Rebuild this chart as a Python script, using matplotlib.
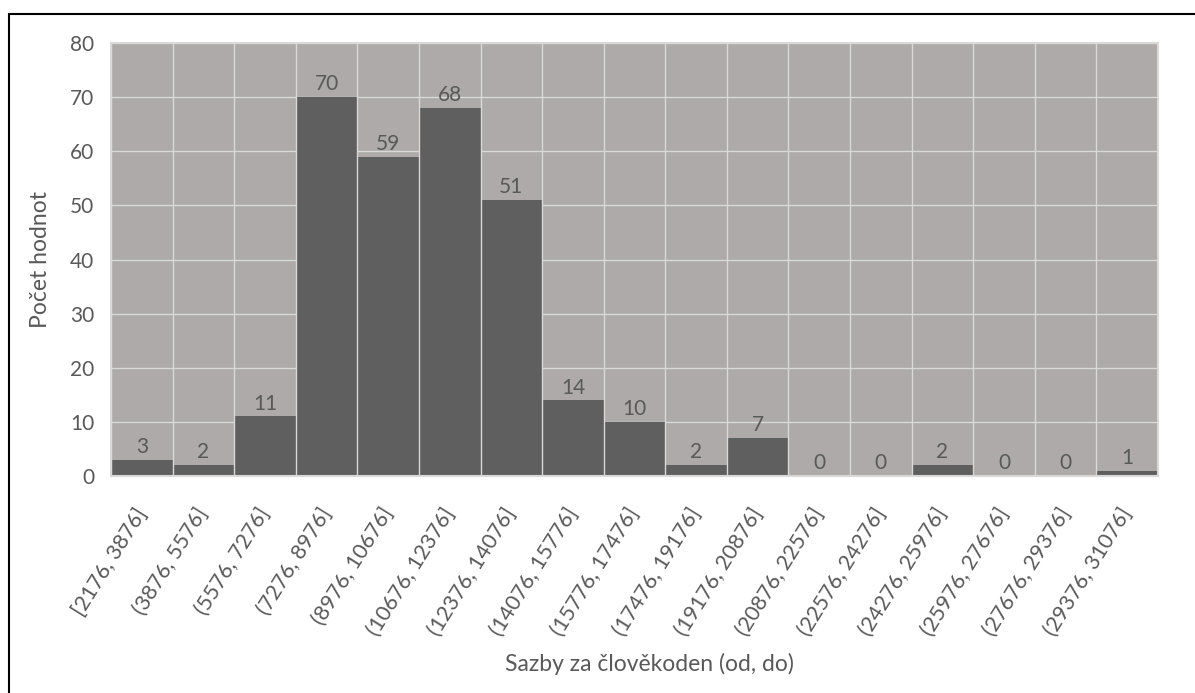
import matplotlib
matplotlib.use("Agg")
import matplotlib.pyplot as plt
from matplotlib.patches import Rectangle

categories = ["[2176, 3876]", "(3876, 5576]", "(5576, 7276]", "(7276, 8976]",
              "(8976, 10676]", "(10676, 12376]", "(12376, 14076]", "(14076, 15776]",
              "(15776, 17476]", "(17476, 19176]", "(19176, 20876]", "(20876, 22576]",
              "(22576, 24276]", "(24276, 25976]", "(25976, 27676]", "(27676, 29376]",
              "(29376, 31076]"]
counts = [3, 2, 11, 70, 59, 68, 51, 14, 10, 2, 7, 0, 0, 2, 0, 0, 1]
yticks = [0, 10, 20, 30, 40, 50, 60, 70, 80]

plt.rcParams['font.family'] = ['Lato', 'DejaVu Sans']
txt = '#595959'
grid = '#D9D9D9'

fig = plt.figure(figsize=(11.95, 6.93), dpi=100)
fig.patches.append(Rectangle((9/1195, -0.1), 1.2, 1 - 14/693 + 0.1,
                             transform=fig.transFigure, fill=False,
                             edgecolor='black', linewidth=1.5))
ax = fig.add_axes([111/1195, 1 - 476/693, 1047/1195, 433/693])
ax.set_facecolor('#ADAAA9')

x = list(range(len(counts)))
ax.bar(x, counts, width=1.0, color='#5F5F5F', zorder=2)
for i in range(len(counts) + 1):
    ax.axvline(i - 0.5, color=grid, linewidth=1, zorder=3)
for t in yticks:
    ax.axhline(t, color=grid, linewidth=1, zorder=1)

for xi, c in zip(x, counts):
    ax.text(xi, c + 0.5, str(c), ha='center', va='bottom', fontsize=15, color=txt, zorder=4)

ax.set_xlim(-0.5, len(counts) - 0.5)
ax.set_ylim(0, 80)
ax.set_yticks(yticks)
ax.set_yticklabels([str(t) for t in yticks], fontsize=15, color=txt)
ax.set_xticks(x)
ax.set_xticklabels(categories, rotation=58, ha='right', va='center',
                   rotation_mode='anchor', fontsize=15.5, color=txt)
ax.tick_params(axis='both', length=0)
ax.tick_params(axis='x', pad=24)
ax.tick_params(axis='y', pad=12)
for s in ax.spines.values():
    s.set_color(grid)
    s.set_linewidth(1.5)

fig.text(649 / 1195, 1 - 664/693, "Sazby za člověkoden (od, do)",
         ha='center', va='center', fontsize=16.5, color=txt)
fig.text(41/1195, 1 - 260/693, "Počet hodnot", ha='center', va='center',
         rotation=90, fontsize=16.5, color=txt)

fig.savefig("out.png", dpi=100)
